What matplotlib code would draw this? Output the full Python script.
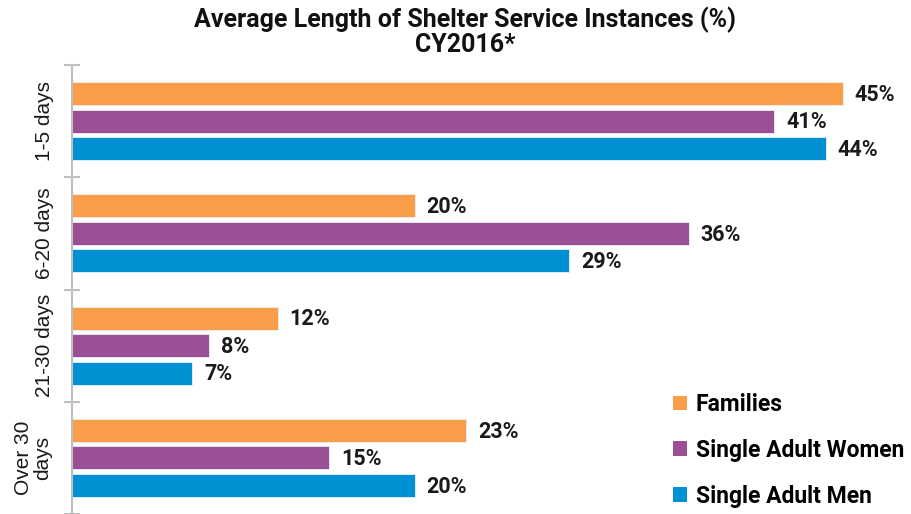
import matplotlib
matplotlib.use("Agg")
import matplotlib.pyplot as plt
from matplotlib.patches import Patch
import numpy as np

categories = ["1-5 days", "6-20 days", "21-30 days", "Over 30\ndays"]
series = ["Families", "Single Adult Women", "Single Adult Men"]
families = [45, 20, 12, 23]
women = [41, 36, 8, 15]
men = [44, 29, 7, 20]
colors = ["#F99D48", "#9B4F96", "#0090D4"]

fig = plt.figure(figsize=(9.12, 5.14), dpi=100)
ax = fig.add_axes([72/912, -3/514, 830/912, 452/514])
px = 1/17.13

y = np.arange(len(categories))
pitch = 0.245
height = 0.205
for i, (vals, c, name) in enumerate(zip([families, women, men], colors, series)):
    pos = y + (i - 1) * pitch
    ax.barh(pos, vals, height=height, color=c, edgecolor="#E8F0F8", linewidth=0.6, label=name)
    for p, v in zip(pos, vals):
        ax.text(v + 12*px, p + 0.01, f"{v}%", va="center", ha="left", fontsize=15.5,
                fontweight="bold", family="Roboto", color="#1a1a1a")

ax.set_xlim(0, 830*px)
ax.set_ylim(3.5 + 3/112.75, -0.5)
for s in ["top", "right", "bottom"]:
    ax.spines[s].set_visible(False)
ax.spines["left"].set_color("#BFBFBF")
ax.spines["left"].set_linewidth(1.5)
ax.set_xticks([])
ax.set_yticks(np.arange(-0.5, 4.0, 1.0))
ax.set_yticklabels([])
ax.tick_params(axis="y", direction="inout", length=12, width=1.5, color="#BFBFBF")
for yi, cat in zip(y, categories):
    xc = -27*px if "\n" not in cat else -39*px
    ax.text(xc, yi, cat, rotation=90, ha="center", va="center",
            fontsize=15, family="Liberation Sans", color="#1a1a1a",
            multialignment="center", linespacing=1.05)

fig.text(0.51, 1 - 20/514, "Average Length of Shelter Service Instances (%)", ha="center", va="center",
         fontsize=18, fontweight="bold", family="Roboto", color="#111111")
fig.text(0.51, 1 - 45/514, "CY2016*", ha="center", va="center",
         fontsize=18, fontweight="bold", family="Roboto", color="#111111")

handles = [Patch(facecolor=c, edgecolor="none") for c in colors]
leg = fig.legend(handles, series, loc="upper left", bbox_to_anchor=(666/912, 1 - 386/514),
                 frameon=False, handlelength=0.6, handleheight=0.6, handletextpad=0.4,
                 labelspacing=1.0, borderaxespad=0, borderpad=0.3,
                 prop={"family": "Roboto", "weight": "bold", "size": 16.5})

fig.savefig("out.png", dpi=100)
